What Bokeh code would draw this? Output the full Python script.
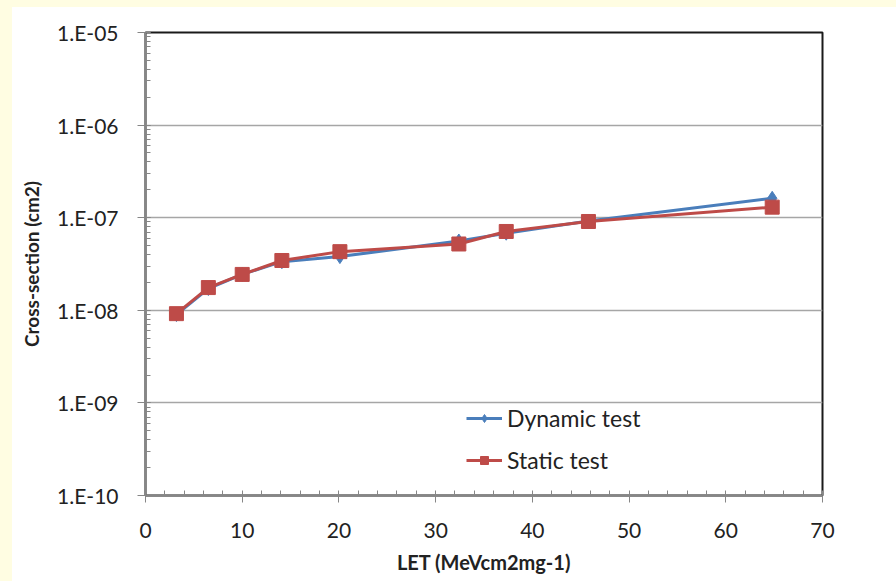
from bokeh.plotting import figure
from bokeh.models import (SingleIntervalTicker, LogTicker, CustomJSTickFormatter,
                          Legend, LegendItem, Range1d)
from bokeh.embed import file_html
from bokeh.resources import INLINE

# ---- data ----
let_values = [3.2, 6.5, 10.0, 14.1, 20.1, 32.4, 37.3, 45.8, 64.8]
dynamic_xs = [9.0e-9, 1.72e-8, 2.44e-8, 3.35e-8, 3.8e-8, 5.6e-8, 6.8e-8, 9.2e-8, 1.62e-7]
static_xs = [9.2e-9, 1.76e-8, 2.44e-8, 3.45e-8, 4.3e-8, 5.2e-8, 7.1e-8, 9.1e-8, 1.3e-7]
series_names = ["Dynamic test", "Static test"]
x_label = "LET (MeVcm2mg-1)"
y_label = "Cross-section (cm2)"

FONT = "Lato"
BLUE = "#4A7EBB"
RED = "#BE4B48"
AXIS_GREY = "#868686"
GRID_GREY = "#a6a6a6"

p = figure(width=884, height=573, frame_width=677, frame_height=463,
           y_axis_type="log", x_range=Range1d(0, 70), y_range=Range1d(1e-10, 1e-5),
           output_backend="svg", toolbar_location=None,
           min_border_left=133, min_border_right=74, min_border_top=24, min_border_bottom=86,
           margin=(8, 0, 0, 12))

p.background_fill_color = "white"
p.border_fill_color = "white"
p.outline_line_color = "#1a1a1a"
p.outline_line_width = 2

# grid
p.xgrid.grid_line_color = None
p.ygrid.grid_line_color = GRID_GREY
p.ygrid.grid_line_width = 1.5

# x axis
xa = p.xaxis[0]
xa.ticker = SingleIntervalTicker(interval=10, num_minor_ticks=5)
xa.axis_line_color = AXIS_GREY
xa.axis_line_width = 2
xa.major_tick_line_color = AXIS_GREY
xa.minor_tick_line_color = AXIS_GREY
xa.major_tick_in = 0
xa.major_tick_out = 7
xa.minor_tick_in = 5
xa.minor_tick_out = 0
xa.major_label_text_font = FONT
xa.major_label_text_font_size = "21px"
xa.major_label_text_color = "#222222"
xa.major_label_standoff = 20
xa.axis_label = x_label
xa.axis_label_text_font = FONT
xa.axis_label_text_font_style = "bold"
xa.axis_label_text_font_size = "20px"
xa.axis_label_text_color = "#222222"
xa.axis_label_standoff = 9

# y axis
ya = p.yaxis[0]
ya.ticker = LogTicker(num_minor_ticks=10)
ya.formatter = CustomJSTickFormatter(
    code="var e = Math.round(Math.log10(tick));"
         "var s = String(Math.abs(e)).padStart(2, '0');"
         "return '1.E' + (e < 0 ? '-' : '+') + s;")
ya.axis_line_color = AXIS_GREY
ya.axis_line_width = 2
ya.major_tick_line_color = AXIS_GREY
ya.minor_tick_line_color = AXIS_GREY
ya.major_tick_in = 0
ya.major_tick_out = 8
ya.minor_tick_in = 5
ya.minor_tick_out = 0
ya.major_label_text_font = FONT
ya.major_label_text_font_size = "21px"
ya.major_label_text_color = "#222222"
ya.major_label_standoff = 19
ya.axis_label = y_label
ya.axis_label_text_font = FONT
ya.axis_label_text_font_style = "bold"
ya.axis_label_text_font_size = "19px"
ya.axis_label_text_color = "#222222"
ya.axis_label_standoff = 11

# series
bl = p.line(let_values, dynamic_xs, line_color=BLUE, line_width=3)
bm = p.scatter(let_values, dynamic_xs, marker="diamond", size=14,
               fill_color=BLUE, line_color=BLUE)
rl = p.line(let_values, static_xs, line_color=RED, line_width=3)
rm = p.scatter(let_values, static_xs, marker="square", size=14,
               fill_color=RED, line_color=RED)

legend = Legend(items=[LegendItem(label=series_names[0], renderers=[bl, bm]),
                       LegendItem(label=series_names[1], renderers=[rl, rm])],
                location=(321, 21))
legend.background_fill_color = "white"
legend.background_fill_alpha = 1.0
legend.border_line_color = None
legend.label_text_font = FONT
legend.label_text_font_size = "23px"
legend.label_text_color = "#222222"
legend.glyph_width = 36
legend.glyph_height = 20
legend.label_standoff = 5
legend.spacing = 14
legend.padding = 6
legend.margin = 0
p.add_layout(legend, "center")

html = file_html(p, INLINE)
style = ("<style>html, body {margin: 0; padding: 0; overflow: hidden;} "
         "html {height: 100%; background-color: #ffffff; "
         "background-image: linear-gradient(#FFFDE2 7px, transparent 7px), "
         "linear-gradient(to right, #FFFDE2 12px, transparent 12px); "
         "background-repeat: no-repeat;} "
         "body {background: transparent;}</style>")
html = html.replace("</head>", style + "</head>", 1)
open("out.html", "w").write(html)
